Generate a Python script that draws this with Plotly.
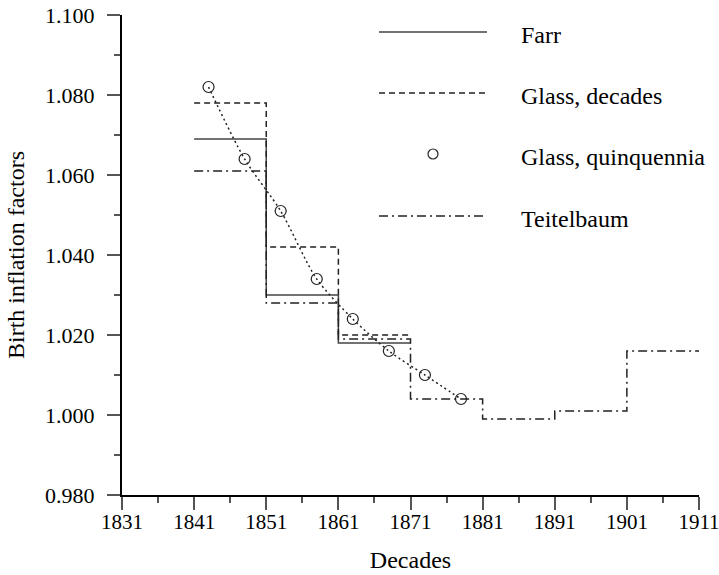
import plotly.graph_objects as go

# ---- data ----
decade_edges = [1841, 1851, 1861, 1871]
farr = [1.069, 1.030, 1.018]
glass_decades = [1.078, 1.042, 1.020]

teitel_edges = [1841, 1851, 1861, 1871, 1881, 1891, 1901, 1911]
teitelbaum = [1.061, 1.028, 1.019, 1.004, 0.999, 1.001, 1.016]

quinq_years = [1843, 1848, 1853, 1858, 1863, 1868, 1873, 1878]
glass_quinq = [1.082, 1.064, 1.051, 1.034, 1.024, 1.016, 1.010, 1.004]

x_ticks = list(range(1831, 1912, 10))
y_ticks = [0.98, 1.00, 1.02, 1.04, 1.06, 1.08, 1.10]

legend_names = ["Farr", "Glass, decades", "Glass, quinquennia", "Teitelbaum"]

FONT = "Liberation Serif, Times New Roman, serif"
LC = "#222222"
DASH = "6px,4px"
DASHDOT = "9px,4px,2px,4px"
DOT = "2px,3px"


def step_xy(edges, vals):
    return edges, list(vals) + [vals[-1]]


fig = go.Figure()

x, y = step_xy(decade_edges, farr)
fig.add_trace(go.Scatter(x=x, y=y, mode="lines", line=dict(shape="hv", color="#444444", width=1.5),
                         name=legend_names[0], showlegend=False))
x, y = step_xy(decade_edges, glass_decades)
fig.add_trace(go.Scatter(x=x, y=y, mode="lines", line=dict(shape="hv", color=LC, width=1.5, dash=DASH),
                         name=legend_names[1], showlegend=False))
x, y = step_xy(teitel_edges, teitelbaum)
fig.add_trace(go.Scatter(x=x, y=y, mode="lines", line=dict(shape="hv", color=LC, width=1.5, dash=DASHDOT),
                         name=legend_names[3], showlegend=False))
fig.add_trace(go.Scatter(x=quinq_years, y=glass_quinq, mode="lines",
                         line=dict(shape="spline", smoothing=0.8, color=LC, width=1.5, dash=DOT),
                         showlegend=False, hoverinfo="skip"))
fig.add_trace(go.Scatter(x=quinq_years, y=glass_quinq, mode="markers",
                         marker=dict(symbol="circle-open", size=11, color=LC, line=dict(width=1.2, color=LC)),
                         name=legend_names[2], showlegend=False))

# ---- manual legend (paper coords; page pixels of the plot area) ----
L, R, T, B = 122, 699, 15, 495
def px(v):
    return (v - L) / (R - L)
def py(v):
    return (B - v) / (B - T)

rows = [32, 93, 154, 216]
styles = [dict(color="#444444", width=1.5), dict(color=LC, width=1.5, dash=DASH), None,
          dict(color=LC, width=1.5, dash=DASHDOT)]
for name, yy, st in zip(legend_names, rows, styles):
    if st is not None:
        fig.add_shape(type="line", xref="paper", yref="paper", x0=px(379), x1=px(487),
                      y0=py(yy), y1=py(yy), line=st)
    else:
        fig.add_shape(type="circle", xref="paper", yref="paper", x0=px(428), x1=px(438),
                      y0=py(yy + 5), y1=py(yy - 5), line=dict(color=LC, width=1.2))
    fig.add_annotation(xref="paper", yref="paper", x=px(519), y=py(yy + 3), text=name,
                       showarrow=False, xanchor="left", yanchor="middle",
                       font=dict(family=FONT, size=24, color="black"))

axis_common = dict(showgrid=False, zeroline=False, showline=True, linecolor="black", linewidth=2,
                   ticks="outside", ticklen=13, tickwidth=1.5, tickcolor="#555555", automargin=False,
                   ticklabeloverflow="allow")

fig.update_xaxes(range=[1831, 1911], tickvals=x_ticks, ticktext=[str(v) for v in x_ticks],
                 tickfont=dict(family=FONT, size=21, color="black"),
                 minor=dict(dtick=5, tick0=1831, ticks="outside", ticklen=6, tickcolor="#555555", tickwidth=1.5),
                 title=dict(text="Decades", font=dict(family=FONT, size=24, color="black"), standoff=18),
                 ticklabelstandoff=-6, **axis_common)
fig.update_yaxes(range=[0.98, 1.10], tickvals=y_ticks, ticktext=[f"{v:.3f}" for v in y_ticks],
                 tickfont=dict(family=FONT, size=22, color="black"),
                 minor=dict(dtick=0.01, tick0=0.98, ticks="outside", ticklen=6, tickcolor="#555555", tickwidth=1.5),
                 title=dict(text="Birth inflation factors", font=dict(family=FONT, size=24, color="black"), standoff=14),
                 ticklabelstandoff=8, **axis_common)

fig.update_layout(width=719, height=575, margin=dict(l=122, r=20, t=15, b=80),
                  paper_bgcolor="white", plot_bgcolor="white", showlegend=False,
                  font=dict(family=FONT, size=22, color="black"))

# remove the default 8px page margin so the figure fills the window exactly
fig.write_html("out.html", config={"displayModeBar": False},
               post_script="document.body.style.margin='0';")
